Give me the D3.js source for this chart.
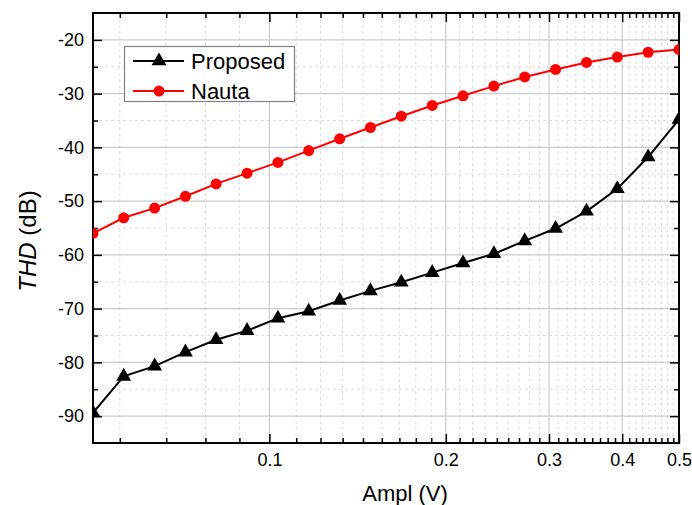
<!DOCTYPE html>
<html>
<head>
<meta charset="utf-8">
<script src="https://cdn.jsdelivr.net/npm/d3@7"></script>
<style>
  body { margin: 0; background: #fff; }
  text { font-family: "Liberation Sans", Arial, sans-serif; fill: #000; }
</style>
</head>
<body>
<div id="chart"></div>
<script>
// amplitude (V), log spaced sweep
var ampl = [0.05, 0.0564, 0.0637, 0.0719, 0.0811, 0.0916, 0.1034, 0.1167, 0.1318, 0.1487,
            0.1679, 0.1896, 0.2140, 0.2416, 0.2727, 0.3079, 0.3476, 0.3924, 0.4429, 0.5];
var proposed = [-89.4, -82.6, -80.7, -78.1, -75.8, -74.1, -71.8, -70.5, -68.5, -66.7,
                -65.1, -63.3, -61.5, -59.8, -57.4, -55.1, -51.9, -47.7, -41.8, -34.8];
var nauta = [-56.0, -53.1, -51.3, -49.1, -46.8, -44.8, -42.8, -40.6, -38.4, -36.3,
             -34.2, -32.2, -30.4, -28.6, -26.9, -25.5, -24.2, -23.2, -22.3, -21.8];
var xTicks = [0.1, 0.2, 0.3, 0.4, 0.5];
var xTickLabels = ['0.1', '0.2', '0.3', '0.4', '0.5'];
var yTicks = [-90, -80, -70, -60, -50, -40, -30, -20];

var width = 692, height = 505;
var margin = {top: 13, right: 13, bottom: 62, left: 93};
var x0 = margin.left, x1 = width - margin.right;
var y0 = height - margin.bottom, y1 = margin.top;

var x = d3.scaleLog().domain([0.05, 0.5]).range([x0, x1]);
var y = d3.scaleLinear().domain([-95, -15]).range([y0, y1]);

// minor ticks every 0.1/9 (origin style), and every 5 dB
var xMinor = d3.range(6, 45).filter(function(k) { return k % 9 != 0; })
    .map(function(k) { return k / 90; });
xMinor.unshift(5 / 90);
var yMinor = d3.range(-85, -15, 10);

var svg = d3.select('#chart').append('svg')
    .attr('width', width)
    .attr('height', height);

svg.append('defs').append('clipPath').attr('id', 'clip')
  .append('rect')
    .attr('x', x0).attr('y', y1)
    .attr('width', x1 - x0).attr('height', y0 - y1);

// grid
var grid = svg.append('g');
grid.selectAll('.xminor').data(xMinor).enter().append('line')
    .attr('x1', function(d) { return x(d); }).attr('x2', function(d) { return x(d); })
    .attr('y1', y1).attr('y2', y0)
    .attr('stroke', '#dcdcdc').attr('stroke-dasharray', '3,3');
grid.selectAll('.yminor').data(yMinor).enter().append('line')
    .attr('x1', x0).attr('x2', x1)
    .attr('y1', function(d) { return y(d); }).attr('y2', function(d) { return y(d); })
    .attr('stroke', '#dcdcdc').attr('stroke-dasharray', '3,3');
grid.selectAll('.xmajor').data(xTicks.slice(0, 4)).enter().append('line')
    .attr('x1', function(d) { return x(d); }).attr('x2', function(d) { return x(d); })
    .attr('y1', y1).attr('y2', y0)
    .attr('stroke', '#cccccc').attr('stroke-width', 1.2);
grid.selectAll('.ymajor').data(yTicks).enter().append('line')
    .attr('x1', x0).attr('x2', x1)
    .attr('y1', function(d) { return y(d); }).attr('y2', function(d) { return y(d); })
    .attr('stroke', '#cccccc').attr('stroke-width', 1.2);

// axes, ticks pointing inward on all four sides
function tickFmt(d) { return xTickLabels[xTicks.indexOf(d)]; }
function yFmt(d) { return String(d); }  // plain hyphen minus like the original
svg.append('g').attr('transform', 'translate(0,' + y0 + ')')
    .call(d3.axisBottom(x).tickValues(xTicks).tickFormat(tickFmt).tickSizeInner(-9).tickSizeOuter(0).tickPadding(10))
    .call(styleAxis);
svg.append('g').attr('transform', 'translate(0,' + y0 + ')')
    .call(d3.axisBottom(x).tickValues(xMinor).tickFormat('').tickSizeInner(-5).tickSizeOuter(0))
    .call(styleAxis);
svg.append('g').attr('transform', 'translate(0,' + y1 + ')')
    .call(d3.axisTop(x).tickValues(xTicks).tickFormat('').tickSizeInner(-9).tickSizeOuter(0))
    .call(styleAxis);
svg.append('g').attr('transform', 'translate(0,' + y1 + ')')
    .call(d3.axisTop(x).tickValues(xMinor).tickFormat('').tickSizeInner(-5).tickSizeOuter(0))
    .call(styleAxis);
svg.append('g').attr('transform', 'translate(' + x0 + ',0)')
    .call(d3.axisLeft(y).tickValues(yTicks).tickFormat(yFmt).tickSizeInner(-9).tickSizeOuter(0).tickPadding(9))
    .call(styleAxis);
svg.append('g').attr('transform', 'translate(' + x0 + ',0)')
    .call(d3.axisLeft(y).tickValues(yMinor).tickFormat('').tickSizeInner(-5).tickSizeOuter(0))
    .call(styleAxis);
svg.append('g').attr('transform', 'translate(' + x1 + ',0)')
    .call(d3.axisRight(y).tickValues(yTicks).tickFormat('').tickSizeInner(-9).tickSizeOuter(0))
    .call(styleAxis);
svg.append('g').attr('transform', 'translate(' + x1 + ',0)')
    .call(d3.axisRight(y).tickValues(yMinor).tickFormat('').tickSizeInner(-5).tickSizeOuter(0))
    .call(styleAxis);

function styleAxis(g) {
  g.select('.domain').remove();
  g.selectAll('line').attr('stroke', '#000').attr('stroke-width', 1.5);
  g.selectAll('text').style('font-size', '18px').attr('fill', '#000')
    .style('font-family', '"Liberation Sans", Arial, sans-serif');
}

// frame
svg.append('rect')
    .attr('x', x0).attr('y', y1)
    .attr('width', x1 - x0).attr('height', y0 - y1)
    .attr('fill', 'none').attr('stroke', '#000').attr('stroke-width', 2);

// series
var plot = svg.append('g').attr('clip-path', 'url(#clip)');
var tri = d3.symbol().type(d3.symbolTriangle).size(95);
var dot = d3.symbol().type(d3.symbolCircle).size(95);

function drawSeries(vals, color, shape) {
  var line = d3.line()
      .x(function(d, i) { return x(ampl[i]); })
      .y(function(d) { return y(d); });
  plot.append('path').datum(vals)
      .attr('d', line).attr('fill', 'none')
      .attr('stroke', color).attr('stroke-width', 2);
  plot.selectAll(null).data(vals).enter().append('path')
      .attr('transform', function(d, i) { return 'translate(' + x(ampl[i]) + ',' + y(d) + ')'; })
      .attr('d', shape)
      .attr('fill', color);
}
drawSeries(nauta, '#ff0000', dot);
drawSeries(proposed, '#000000', tri);

// legend
var lg = svg.append('g');
lg.append('rect')
    .attr('x', 124.5).attr('y', 46.5).attr('width', 170).attr('height', 55)
    .attr('fill', '#fff').attr('stroke', '#808080').attr('stroke-width', 1.2);
var items = [
  {name: 'Proposed', color: '#000000', shape: tri, y: 61},
  {name: 'Nauta', color: '#ff0000', shape: dot, y: 91}
];
items.forEach(function(it) {
  lg.append('line').attr('x1', 133).attr('x2', 184).attr('y1', it.y).attr('y2', it.y)
      .attr('stroke', it.color).attr('stroke-width', 2);
  lg.append('path').attr('d', it.shape).attr('fill', it.color)
      .attr('transform', 'translate(159,' + it.y + ')');
  lg.append('text').attr('x', 191).attr('y', it.y + 8)
      .style('font-size', '22px').text(it.name);
});

// axis titles
svg.append('text')
    .attr('x', 405).attr('y', 501)
    .attr('text-anchor', 'middle')
    .style('font-size', '22px')
    .text('Ampl (V)');
var yt = svg.append('text')
    .attr('transform', 'translate(36,241) rotate(-90)')
    .attr('text-anchor', 'middle')
    .style('font-size', '24px');
yt.append('tspan').style('font-style', 'italic').text('THD');
yt.append('tspan').text(' (dB)');
</script>
</body>
</html>
